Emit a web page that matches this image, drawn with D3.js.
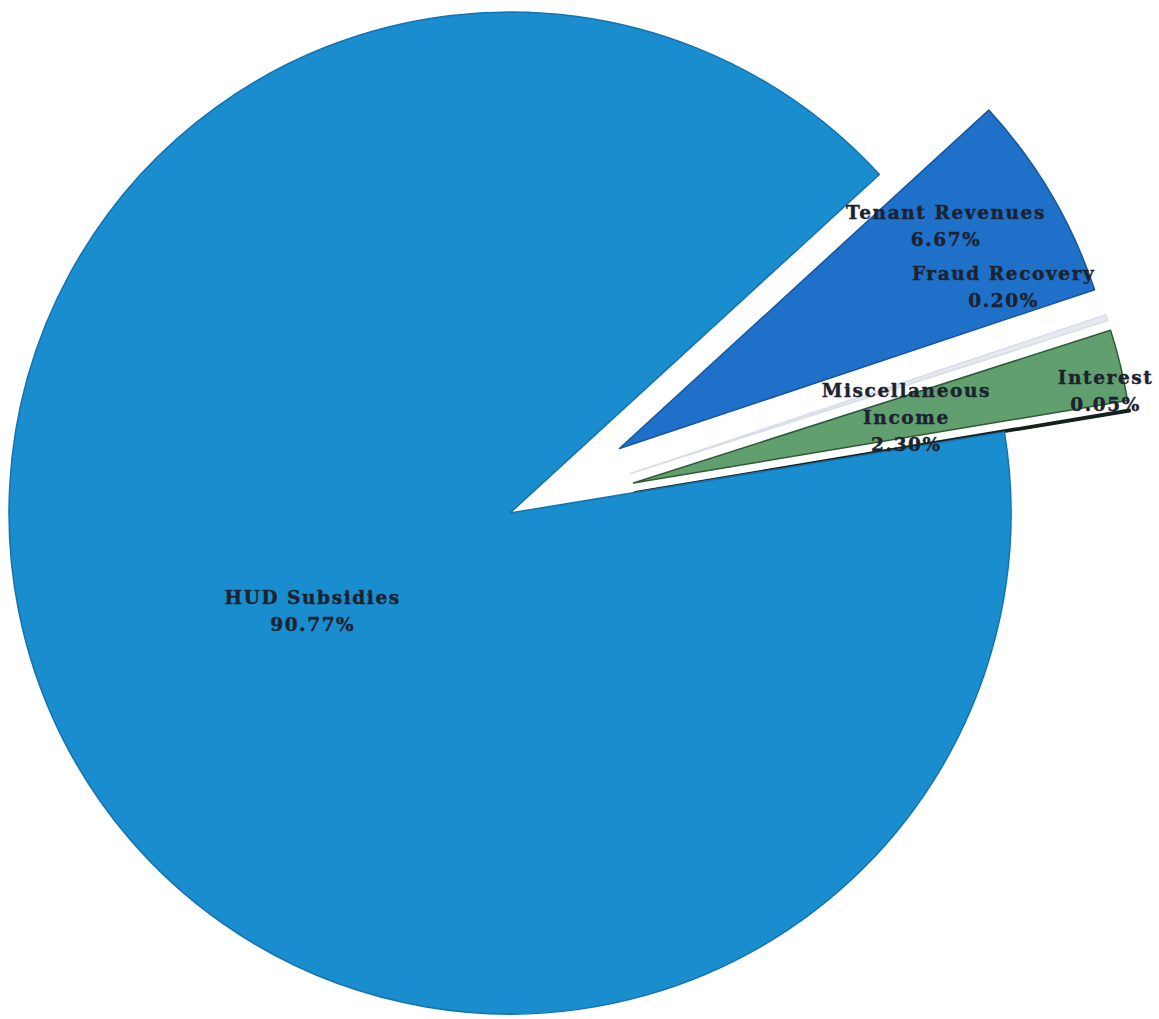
<!DOCTYPE html>
<html>
<head>
<meta charset="utf-8">
<script src="https://cdn.jsdelivr.net/npm/d3@7"></script>
<style>
  html, body { margin: 0; padding: 0; background: #ffffff; }
  #wrapper { width: 1159px; height: 1019px; }
</style>
</head>
<body>
<div id="wrapper"></div>
<script>
// ---------- DATA -----------------------------------------------
// clockwise from the top-right gap
const categories = ["Tenant Revenues", "Fraud Recovery", "Miscellaneous Income", "Interest", "HUD Subsidies"];
const shares = [6.67, 0.20, 2.30, 0.05, 90.77];
const labelLines = [
  ["Tenant Revenues", "6.67%"],
  ["Fraud Recovery", "0.20%"],
  ["Miscellaneous", "Income", "2.30%"],
  ["Interest", "0.05%"],
  ["HUD Subsidies", "90.77%"],
];

async function drawChart() {
  const dataset = categories.map((c, i) => ({ label: c, value: shares[i], lines: labelLines[i] }));

  // ---------- DIMENSIONS ----------------------------------------
  const dimensions = {
    width: 1159,
    height: 1019,
    cx: 510,
    cy: 513,
    radius: 501,
    explode: 127,
  };

  const colors = {
    "Tenant Revenues": { fill: "#1f70c9", stroke: "#17579e" },
    "Fraud Recovery": { fill: "#e4e8ef", stroke: "#d8dce5" },
    "Miscellaneous Income": { fill: "#619f6f", stroke: "#2f5a3a" },
    "Interest": { fill: "#15201a", stroke: "#15201a" },
    "HUD Subsidies": { fill: "#1a8dce", stroke: "#1273b0" },
  };

  // label placement: radius fraction and angle nudge (deg) around each slice's own apex
  const labelLayout = {
    "Tenant Revenues": { r: 0.788, da: -3.7 },
    "Fraud Recovery": { r: 0.832, da: -8.4 },
    "Miscellaneous Income": { r: 0.56, da: 0.3 },
    "Interest": { r: 0.96, da: -2.7 },
    "HUD Subsidies": { r: 0.44, da: -0.6 },
  };

  const svg = d3.select("#wrapper")
    .append("svg")
    .attr("width", dimensions.width)
    .attr("height", dimensions.height);

  const bounds = svg.append("g")
    .attr("transform", `translate(${dimensions.cx}, ${dimensions.cy})`);

  // ---------- PIE ----------------------------------------
  const startDeg = 47.5;
  const pie = d3.pie()
    .sort(null)
    .value(d => d.value)
    .startAngle(startDeg * Math.PI / 180)
    .endAngle(startDeg * Math.PI / 180 + 2 * Math.PI);

  const arcs = pie(dataset);

  const arcGenerator = d3.arc()
    .innerRadius(0)
    .outerRadius(dimensions.radius);

  const midAngle = d => (d.startAngle + d.endAngle) / 2;
  const offsetOf = d => {
    const e = d.data.label === "HUD Subsidies" ? 0 : dimensions.explode;
    const a = midAngle(d);
    return [e * Math.sin(a), -e * Math.cos(a)];
  };

  const slices = bounds.append("g").attr("class", "slices")
    .selectAll("g")
    .data(arcs)
    .join("g")
    .attr("transform", d => `translate(${offsetOf(d)})`);

  slices.append("path")
    .attr("d", arcGenerator)
    .attr("fill", d => colors[d.data.label].fill)
    .attr("stroke", d => colors[d.data.label].stroke)
    .attr("stroke-width", d => d.data.label === "Interest" ? 2.5 : 1.5)
    .attr("stroke-linejoin", "round");

  // ---------- LABELS ----------------------------------------
  const lineHeight = 27;
  const labels = bounds.append("g").attr("class", "labels")
    .selectAll("text")
    .data(arcs)
    .join("text")
    .attr("transform", d => {
      const [ox, oy] = offsetOf(d);
      const lay = labelLayout[d.data.label];
      const a = midAngle(d) + lay.da * Math.PI / 180;
      const r = lay.r * dimensions.radius;
      return `translate(${ox + r * Math.sin(a)}, ${oy - r * Math.cos(a)})`;
    })
    .attr("text-anchor", "middle")
    .style("font-family", "'DejaVu Serif', serif")
    .style("font-weight", "bold")
    .style("font-size", "18.5px")
    .style("letter-spacing", "1.6px")
    .attr("fill", "#1b2230")
    .attr("stroke", "#1b2230")
    .attr("stroke-width", 0.4);

  labels.selectAll("tspan")
    .data(d => d.data.lines.map((t, i, all) => ({ t, i, n: all.length })))
    .join("tspan")
    .attr("x", 0)
    .attr("y", d => (d.i - (d.n - 1) / 2) * lineHeight + 6)
    .text(d => d.t);
}

drawChart();
</script>
</body>
</html>
